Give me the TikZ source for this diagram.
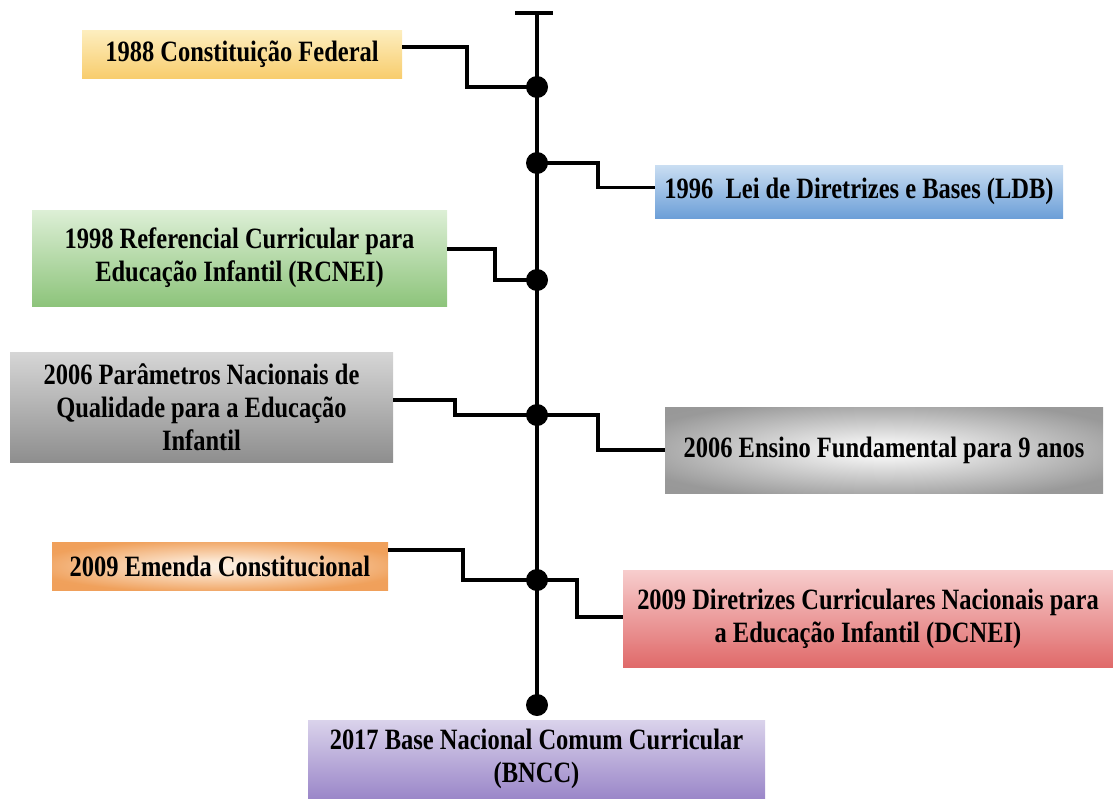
\documentclass[tikz,border=0pt]{standalone}
\usepackage{fontspec}
\setmainfont{Liberation Serif}[FakeStretch=0.83]
\definecolor{yelTop}{HTML}{FDEEBF}
\definecolor{yelBot}{HTML}{F8CD6E}
\definecolor{bluTop}{HTML}{CADEF2}
\definecolor{bluBot}{HTML}{6C9FD8}
\definecolor{grnTop}{HTML}{DDEFD6}
\definecolor{grnBot}{HTML}{8DC47B}
\definecolor{gryTop}{HTML}{D6D6D6}
\definecolor{gryBot}{HTML}{8E8E8E}
\definecolor{redTop}{HTML}{F7CDCD}
\definecolor{redBot}{HTML}{E06A6A}
\definecolor{purTop}{HTML}{DAD3EB}
\definecolor{purBot}{HTML}{9B87C9}
\pgfdeclareradialshading{glowGry}{\pgfpoint{0bp}{0bp}}
  {color(0bp)=(white!96!black); color(5bp)=(white!94!black); color(30bp)=(black!40); color(50bp)=(black!42)}
\pgfdeclareradialshading{glowOrg}{\pgfpoint{0bp}{0bp}}
  {rgb(0bp)=(0.99,0.94,0.89); rgb(5bp)=(0.99,0.92,0.85); rgb(28bp)=(0.94,0.63,0.36); rgb(50bp)=(0.94,0.62,0.34)}
\begin{document}
\begin{tikzpicture}
    [x=1pt,y=-1pt,
     box/.style 2 args={minimum width=#1,minimum height=#2,inner sep=0pt,align=center,
       font=\bfseries\fontsize{29.5}{33}\selectfont},
     dot/.style={circle,fill=black,minimum size=22pt,inner sep=0pt},
     link/.style={line width=3.5pt}]
  \useasboundingbox (0,0) rectangle (1113,798);
  % boxes
  \node [box={320pt}{48pt},top color=yelTop,bottom color=yelBot] (b88) at (242,54)
    {1988 Constituição Federal};
  \node [box={408pt}{53pt},top color=bluTop,bottom color=bluBot] (b96) at (859,191.5)
    {1996\ \ Lei de Diretrizes e Bases (LDB)};
  \node [box={415pt}{96pt},top color=grnTop,bottom color=grnBot] (b98) at (239.5,258)
    {1998 Referencial Curricular para\\Educação Infantil (RCNEI)};
  \node [box={383pt}{110pt},top color=gryTop,bottom color=gryBot] (b06a) at (201.5,407)
    {2006 Parâmetros Nacionais de\\Qualidade para a Educação\\Infantil};
  \node [box={438pt}{86pt},shading=glowGry] (b06b) at (884,450)
    {2006 Ensino Fundamental para 9 anos};
  \node [box={336pt}{48pt},shading=glowOrg] (b09a) at (220,566)
    {2009 Emenda Constitucional};
  \node [box={490pt}{97pt},top color=redTop,bottom color=redBot] (b09b) at (868,618.5)
    {2009 Diretrizes Curriculares Nacionais para\\a Educação Infantil (DCNEI)};
  \node [box={457pt}{78pt},top color=purTop,bottom color=purBot] (b17) at (536.5,759)
    {2017 Base Nacional Comum Curricular\\(BNCC)};
  % time line
  \coordinate (top) at (537,13);
  \coordinate (d1) at (537,87);
  \coordinate (d2) at (537,163);
  \coordinate (d3) at (537,280);
  \coordinate (d4) at (537,415);
  \coordinate (d5) at (537,580);
  \coordinate (d6) at (537,705);
  \draw [link] (top) -- (d6);
  \draw [link] ([xshift=-22pt]top) -- ([xshift=16pt]top);
  \draw [link] ([yshift=7pt]b88.east) -- ++(65,0) |- (d1);
  \draw [link] (d2) -- ++(61,0) |- ([yshift=4pt]b96.west);
  \draw [link] ([yshift=9pt]b98.east) -- ++(48,0) |- (d3);
  \draw [link] ([yshift=7pt]b06a.east) -- ++(62,0) |- (d4);
  \draw [link] (d4) -- ++(61,0) |- (b06b.west);
  \draw [link] ([yshift=16pt]b09a.east) -- ++(75,0) |- (d5);
  \draw [link] (d5) -- ++(40,0) |- ([yshift=1.5pt]b09b.west);
  \foreach \p in {d1,d2,d3,d4,d5,d6}
    \node [dot] at (\p) {};
\end{tikzpicture}
\end{document}
